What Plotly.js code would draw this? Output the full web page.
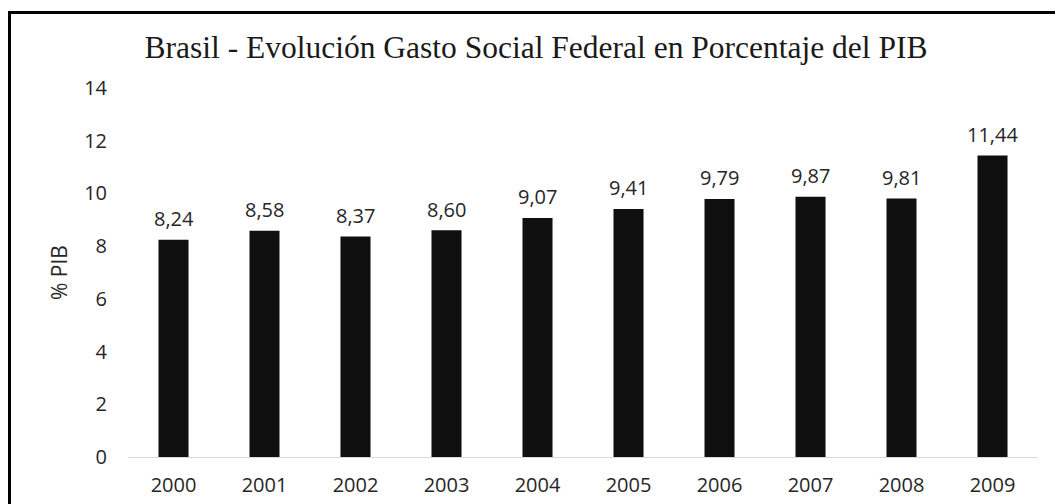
<!DOCTYPE html>
<html>
<head>
<meta charset="utf-8">
<script src="https://cdn.plot.ly/plotly-3.0.1.min.js"></script>
<style>
  html, body { margin: 0; padding: 0; background: #fff; }
  #wrap { position: relative; width: 1055px; height: 504px; overflow: hidden; }
  #chart { position: absolute; left: 0; top: 0; width: 1055px; height: 504px; }
  #frame { position: absolute; left: 8px; top: 11px; width: 1100px; height: 600px;
           border-top: 3px solid #000; border-left: 3px solid #000; pointer-events: none; }
</style>
</head>
<body>
<div id="wrap">
  <div id="chart"></div>
  <div id="frame"></div>
</div>
<script>
const years = ['2000','2001','2002','2003','2004','2005','2006','2007','2008','2009'];
const gastoSocial = [8.24, 8.58, 8.37, 8.60, 9.07, 9.41, 9.79, 9.87, 9.81, 11.44];
const yTicks = [0, 2, 4, 6, 8, 10, 12, 14];
const titleText = 'Brasil - Evolución Gasto Social Federal en Porcentaje del PIB';
const yTitle = '% PIB';

const labelFont = { family: 'Open Sans, sans-serif', size: 20, color: '#262626' };

const trace = {
  type: 'bar',
  x: years,
  y: gastoSocial,
  marker: { color: '#0f0f0f' },
  hoverinfo: 'none'
};

const annotations = years.map((yr, i) => ({
  x: i,
  y: gastoSocial[i],
  xref: 'x',
  yref: 'y',
  text: gastoSocial[i].toFixed(2).replace('.', ','),
  showarrow: false,
  yanchor: 'middle',
  xanchor: 'center',
  yshift: 21,
  font: labelFont
}));

const layout = {
  width: 1055,
  height: 504,
  margin: { l: 128, r: 17, t: 88, b: 47 },
  separators: ',.',
  paper_bgcolor: '#ffffff',
  plot_bgcolor: '#ffffff',
  bargap: 0.67,
  showlegend: false,
  annotations: annotations,
  title: {
    text: titleText,
    font: { family: 'Liberation Serif, Times New Roman, serif', size: 31.5, color: '#1a1a1a' },
    x: 536 / 1055, xanchor: 'center', xref: 'container',
    y: 1 - 47 / 504, yanchor: 'middle', yref: 'container'
  },
  xaxis: {
    type: 'category',
    range: [-0.5, years.length - 0.5],
    autorange: false,
    showgrid: false,
    showline: true,
    linecolor: '#d9d9d9',
    linewidth: 1,
    ticks: '',
    ticklabelstandoff: 10,
    tickfont: labelFont,
    automargin: false
  },
  yaxis: {
    range: [0, 14],
    autorange: false,
    tickvals: yTicks,
    showgrid: false,
    zeroline: false,
    showline: false,
    ticks: '',
    ticklabelstandoff: 20,
    tickfont: labelFont,
    title: { text: yTitle, font: { family: 'Open Sans, sans-serif', size: 21, color: '#262626' }, standoff: 10 },
    automargin: false
  }
};

Plotly.newPlot('chart', [trace], layout, { staticPlot: true, displayModeBar: false });
</script>
</body>
</html>
